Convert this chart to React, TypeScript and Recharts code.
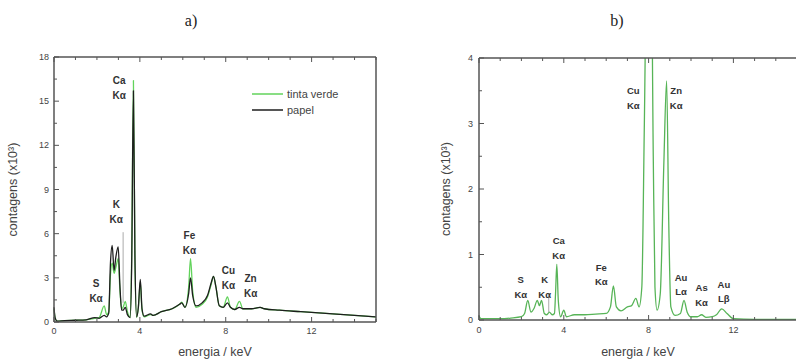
import React from "react";
import { LineChart, Line, XAxis, YAxis, ReferenceDot, ReferenceLine, Legend } from "recharts";

// a) tinta verde x papel, contagens em x10^3
const energiaA = [
  0, 0.05, 0.15, 0.5, 1.0, 1.5, 1.9, 2.1, 2.34, 2.45, 2.55, 2.63, 2.71, 2.8, 2.88, 2.99,
  3.07, 3.15, 3.22, 3.32, 3.42, 3.55, 3.62, 3.7, 3.77, 3.85, 3.93, 4.02, 4.1, 4.2, 4.5,
  4.62, 5.0, 5.5, 5.85, 5.95, 6.1, 6.27, 6.36, 6.46, 6.62, 6.9, 7.15, 7.33, 7.43, 7.54,
  7.7, 7.88, 8.08, 8.22, 8.42, 8.64, 8.8, 9.2, 9.6, 9.8, 10.5, 11.5, 12.5, 13.5, 14.5, 15,
];
const tintaVerdeA = [
  0.9, 0.3, 0.05, 0.1, 0.12, 0.15, 0.25, 0.3, 1.1, 0.5, 0.7, 3.2, 4.0, 3.3, 3.7, 4.3,
  2.2, 0.9, 1.0, 1.4, 0.7, 0.3, 4.5, 16.4, 4.0, 0.3, 1.0, 2.7, 0.8, 0.35, 0.5,
  0.45, 0.7, 0.9, 1.2, 1.35, 1.0, 2.3, 4.3, 2.1, 1.0, 1.2, 1.7, 2.6, 3.1, 2.4,
  1.1, 1.0, 1.7, 1.0, 0.85, 1.4, 0.9, 0.9, 1.0, 0.9, 0.8, 0.7, 0.6, 0.5, 0.4, 0.35,
];
const papelA = [
  1.0, 0.3, 0.05, 0.1, 0.12, 0.15, 0.3, 0.25, 0.45, 0.35, 0.6, 4.0, 5.2, 3.5, 4.4, 5.1,
  2.5, 0.8, 0.8, 1.0, 0.5, 0.3, 4.0, 15.7, 4.5, 0.35, 1.0, 2.9, 0.9, 0.4, 0.55,
  0.45, 0.7, 0.9, 1.2, 1.3, 1.0, 1.9, 3.0, 1.8, 1.1, 1.3, 1.8, 2.7, 3.1, 2.4,
  1.1, 1.0, 1.3, 1.0, 0.85, 1.0, 0.9, 0.9, 1.0, 0.9, 0.8, 0.7, 0.6, 0.5, 0.4, 0.35,
];

// b) tinta verde, contagens em x10^3
const energiaB = [
  0, 0.1, 0.5, 1.0, 1.5, 2.0, 2.15, 2.3, 2.45, 2.6, 2.75, 2.85, 2.95, 3.08, 3.2, 3.32,
  3.45, 3.56, 3.61, 3.67, 3.74, 3.85, 4.0, 4.12, 4.5, 5.0, 5.5, 6.0, 6.2, 6.34, 6.48,
  6.7, 7.0, 7.2, 7.4, 7.55, 7.68, 7.8, 7.95, 8.1, 8.22, 8.3, 8.4, 8.55, 8.72, 8.85,
  8.95, 9.05, 9.25, 9.5, 9.67, 9.82, 10.0, 10.3, 10.5, 10.7, 11.0, 11.2, 11.45, 11.7,
  12.0, 13, 15,
];
const tintaVerdeB = [
  0.06, 0.02, 0.02, 0.02, 0.03, 0.05, 0.1, 0.3, 0.12, 0.18, 0.3, 0.22, 0.3, 0.1, 0.08, 0.12,
  0.08, 0.1, 0.4, 0.85, 0.3, 0.05, 0.15, 0.05, 0.08, 0.08, 0.09, 0.1, 0.2, 0.52, 0.2,
  0.14, 0.2, 0.22, 0.33, 0.2, 0.5, 3.0, 6.5, 6.5, 2.5, 0.5, 0.15, 0.4, 2.4, 3.65,
  1.5, 0.2, 0.07, 0.1, 0.3, 0.12, 0.05, 0.05, 0.08, 0.04, 0.05, 0.08, 0.17, 0.1,
  0.02, 0.01, 0.01,
];

const ticksEnergia = [0, 1, 2, 3, 4, 5, 6, 7, 8, 9, 10, 11, 12, 13, 14, 15];
const ticksA = [0, 1.5, 3, 4.5, 6, 7.5, 9, 10.5, 12, 13.5, 15, 16.5, 18];
const ticksB = [0, 0.5, 1, 1.5, 2, 2.5, 3, 3.5, 4];

const picosA = [
  { el: "S", linha: "Kα", e: 1.96, c: 2.38 },
  { el: "K", linha: "Kα", e: 2.9, c: 7.74 },
  { el: "Ca", linha: "Kα", e: 3.04, c: 16.2 },
  { el: "Fe", linha: "Kα", e: 6.31, c: 5.64 },
  { el: "Cu", linha: "Kα", e: 8.13, c: 3.26 },
  { el: "Zn", linha: "Kα", e: 9.16, c: 2.72 },
];
const picosB = [
  { el: "S", linha: "Kα", e: 1.97, c: 0.56 },
  { el: "K", linha: "Kα", e: 3.1, c: 0.56 },
  { el: "Ca", linha: "Kα", e: 3.76, c: 1.16 },
  { el: "Fe", linha: "Kα", e: 5.77, c: 0.75 },
  { el: "Cu", linha: "Kα", e: 7.28, c: 3.45 },
  { el: "Zn", linha: "Kα", e: 9.3, c: 3.45 },
  { el: "Au", linha: "Lα", e: 9.53, c: 0.6 },
  { el: "As", linha: "Kα", e: 10.5, c: 0.44 },
  { el: "Au", linha: "Lβ", e: 11.55, c: 0.49 },
];

const VERDE_A = "#62d35b";
const PRETO = "#1e1e1e";
const VERDE_B = "#57b457";
const legendaA = [
  { nome: "tinta verde", cor: VERDE_A },
  { nome: "papel", cor: PRETO },
];

const dadosA = energiaA.map((e, i) => ({ e, verde: tintaVerdeA[i], papel: papelA[i] }));
const dadosB = energiaB.map((e, i) => ({ e, verde: tintaVerdeB[i] }));

const FONT = "'Liberation Sans', Arial, sans-serif";
const AXIS = "#555";
const TXT = "#444";

const tickBaixo = (cada: number, dy: number) => (p: any) => {
  const v = p.payload.value;
  const maior = v % cada === 0;
  return (
    <g>
      <line x1={p.x} x2={p.x} y1={p.y} y2={p.y - (maior ? 5 : 3)} stroke={AXIS} />
      {maior && (
        <text x={p.x} y={p.y + dy} textAnchor="middle" fontSize={9} fill={TXT} fontFamily={FONT}>
          {v}
        </text>
      )}
    </g>
  );
};
const tickTopo = (cada: number) => (p: any) => {
  const maior = p.payload.value % cada === 0;
  return <line x1={p.x} x2={p.x} y1={p.y} y2={p.y + (maior ? 5 : 3)} stroke={AXIS} />;
};
const tickEsq = (cada: number, dx: number) => (p: any) => {
  const v = p.payload.value;
  const maior = v % cada === 0;
  return (
    <g>
      <line x1={p.x} x2={p.x + (maior ? 5 : 3)} y1={p.y} y2={p.y} stroke={AXIS} />
      {maior && (
        <text x={p.x - dx} y={p.y + 3} textAnchor="end" fontSize={9} fill={TXT} fontFamily={FONT}>
          {v}
        </text>
      )}
    </g>
  );
};
const tickDir = (cada: number) => (p: any) => {
  const maior = p.payload.value % cada === 0;
  return <line x1={p.x} x2={p.x - (maior ? 5 : 3)} y1={p.y} y2={p.y} stroke={AXIS} />;
};

const rotulo = (el: string, linha: string, gap: number, size: number) => (p: any) => {
  const vb = p.viewBox;
  const cx = vb.x + vb.width / 2;
  const cy = vb.y + vb.height / 2;
  return (
    <text x={cx} y={cy} textAnchor="middle" fontSize={size} fontWeight="bold" fill="#333" fontFamily={FONT}>
      <tspan x={cx}>{el}</tspan>
      <tspan x={cx} dy={gap}>{linha}</tspan>
    </text>
  );
};

const rotuloY = (dx: number) => (p: any) => {
  const vb = p.viewBox;
  const x = vb.x + vb.width - dx;
  const y = vb.y + vb.height / 2;
  return (
    <text x={x} y={y} transform={`rotate(-90 ${x} ${y})`} textAnchor="middle" fontSize={12.5} fill={TXT} fontFamily={FONT}>
      contagens (x10³)
    </text>
  );
};
const rotuloX = (dy: number) => (p: any) => {
  const vb = p.viewBox;
  return (
    <text x={vb.x + vb.width / 2} y={vb.y + dy} textAnchor="middle" fontSize={12.5} fill={TXT} fontFamily={FONT}>
      energia / keV
    </text>
  );
};

const legenda = () => (
  <div style={{ fontFamily: FONT, fontSize: 11, color: TXT }}>
    {legendaA.map((item) => (
      <div key={item.nome} style={{ display: "flex", alignItems: "center", height: 16 }}>
        <svg width={31} height={4} style={{ marginRight: 4 }}>
          <line x1={0} x2={31} y1={2} y2={2} stroke={item.cor} strokeWidth={1.5} />
        </svg>
        {item.nome}
      </div>
    ))}
  </div>
);

const titulo: React.CSSProperties = {
  position: "absolute",
  top: 12,
  fontFamily: "'Liberation Serif', 'DejaVu Serif', serif",
  fontSize: 16,
  color: "#222",
  transform: "translateX(-50%)",
};

const eixo = { stroke: AXIS, strokeWidth: 1.5 };

export default function App() {
  return (
    <div style={{ position: "absolute", left: 0, top: 0, width: 796, height: 361, background: "#fff", overflow: "hidden" }}>
      <div style={{ ...titulo, left: 191 }}>a)</div>
      <div style={{ ...titulo, left: 617 }}>b)</div>

      <div style={{ position: "absolute", left: 0, top: 0 }}>
        <LineChart width={400} height={361} data={dadosA} margin={{ top: 56, right: 23, bottom: 38, left: 53 }}>
          <XAxis dataKey="e" type="number" domain={[0, 15]} ticks={ticksEnergia} height={1} interval={0}
            tickSize={0} tickMargin={0} tick={tickBaixo(4, 12)} axisLine={eixo} tickLine={false}
            label={{ content: rotuloX(34) }} />
          <XAxis xAxisId="top" orientation="top" dataKey="e" type="number" domain={[0, 15]} ticks={ticksEnergia}
            height={1} interval={0} tickSize={0} tickMargin={0} tick={tickTopo(4)} axisLine={eixo} tickLine={false} />
          <YAxis type="number" domain={[0, 18]} ticks={ticksA} width={1} interval={0} tickSize={0} tickMargin={0}
            tick={tickEsq(3, 5)} axisLine={eixo} tickLine={false} label={{ content: rotuloY(37) }} />
          <YAxis yAxisId="right" orientation="right" type="number" domain={[0, 18]} ticks={ticksA} width={1}
            interval={0} tickSize={0} tickMargin={0} tick={tickDir(3)} axisLine={eixo} tickLine={false} />
          <Line type="monotone" dataKey="verde" name="tinta verde" stroke={VERDE_A} strokeWidth={1.3} dot={false} isAnimationActive={false} />
          <Line type="monotone" dataKey="papel" name="papel" stroke={PRETO} strokeWidth={1.3} dot={false} isAnimationActive={false} />
          <ReferenceLine segment={[{ x: 3.22, y: 1.3 }, { x: 3.22, y: 6.1 }]} stroke="#aaa" />
          {picosA.map((p) => (
            <ReferenceDot key={p.el + p.e} x={p.e} y={p.c} r={1} fill="none" stroke="none" ifOverflow="visible"
              label={{ content: rotulo(p.el, p.linha, 15, 10) }} />
          ))}
          <Legend layout="vertical" align="center" verticalAlign="middle" content={legenda}
            wrapperStyle={{ top: 86, left: 252, width: 120 }} />
        </LineChart>
      </div>

      <div style={{ position: "absolute", left: 400, top: 0 }}>
        <LineChart width={400} height={361} data={dadosB} margin={{ top: 57, right: 2, bottom: 40, left: 78 }}>
          <XAxis dataKey="e" type="number" domain={[0, 15]} ticks={ticksEnergia} height={1} interval={0}
            tickSize={0} tickMargin={0} tick={tickBaixo(4, 13)} axisLine={eixo} tickLine={false}
            label={{ content: rotuloX(36) }} />
          <XAxis xAxisId="top" orientation="top" dataKey="e" type="number" domain={[0, 15]} ticks={ticksEnergia}
            height={1} interval={0} tickSize={0} tickMargin={0} tick={tickTopo(4)} axisLine={eixo} tickLine={false} />
          <YAxis type="number" domain={[0, 4]} allowDataOverflow ticks={ticksB} width={1} interval={0} tickSize={0}
            tickMargin={0} tick={tickEsq(1, 6)} axisLine={eixo} tickLine={false} label={{ content: rotuloY(29) }} />
          <YAxis yAxisId="right" orientation="right" type="number" domain={[0, 4]} ticks={ticksB} width={1}
            interval={0} tickSize={0} tickMargin={0} tick={tickDir(1)} axisLine={eixo} tickLine={false} />
          <Line type="monotone" dataKey="verde" name="tinta verde" stroke={VERDE_B} strokeWidth={1.3} dot={false} isAnimationActive={false} />
          <ReferenceLine segment={[{ x: 3.29, y: 0.12 }, { x: 3.29, y: 0.41 }]} stroke="#aaa" />
          {picosB.map((p) => (
            <ReferenceDot key={p.el + p.e} x={p.e} y={p.c} r={1} fill="none" stroke="none" ifOverflow="visible"
              label={{ content: rotulo(p.el, p.linha, 14.5, 9.5) }} />
          ))}
        </LineChart>
      </div>
    </div>
  );
}
